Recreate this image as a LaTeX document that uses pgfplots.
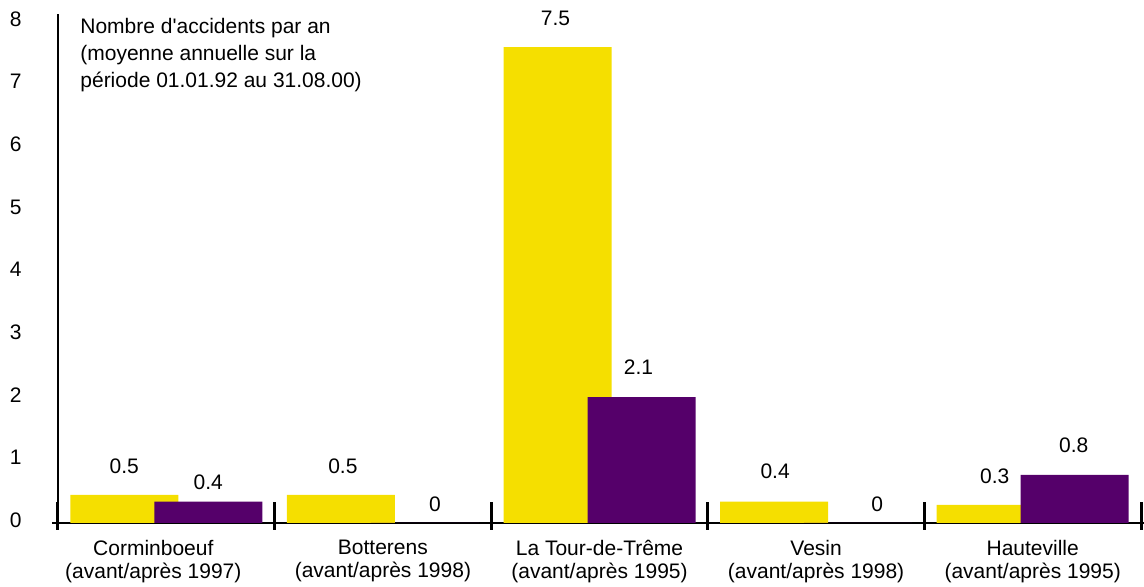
\documentclass[border=0pt]{standalone}
\usepackage{fontspec}
\setmainfont{Liberation Sans}
\usepackage{pgfplots}
\usepackage{pgfplotstable}
\pgfplotsset{compat=1.18}

\definecolor{avant}{RGB}{245,223,0}
\definecolor{apres}{RGB}{85,0,106}

% x: site, y: bar height, label: printed value, dy/dx: label offsets (pt)
\pgfplotstableread{
x y label dy dx
0 0.45 0.5 10.25 0
1 0.45 0.5 10.25 1
2 7.60 7.5 10.5 -1
3 0.34 0.4 11.25 0.5
4 0.29 0.3 10.25 2
}\tabavant

\pgfplotstableread{
x y label dy dx
0 0.34 0.4 5.75 0
1 0 0 5.25 5
2 2.01 2.1 11.25 -1.5
3 0 0 5.25 9.5
4 0.77 0.8 10.75 -0.5
}\tabapres

\begin{document}
\begin{tikzpicture}[font=\fontsize{10.5}{11.5}\selectfont]
\useasboundingbox (-29pt,-32pt) rectangle (543pt,261.5pt);
\begin{axis}[
    at={(0,0)}, anchor=south west,
    scale only axis,
    width=541.5pt, height=254.5pt,
    xmin=-0.5, xmax=4.5,
    ymin=0, ymax=8.128,
    clip=false,
    axis x line=bottom, axis y line=left,
    axis line style={-, line width=0.9pt, black},
    x axis line style={shorten <=-3pt, shorten >=-1.5pt},
    tick align=inside,
    major tick length=0pt,
    xtick={-0.06,1,2,3,4},
    xticklabels={{Corminboeuf\\(avant/après 1997)},
                 {Botterens\\(avant/après 1998)},
                 {La Tour-de-Trême\\(avant/après 1995)},
                 {Vesin\\(avant/après 1998)},
                 {Hauteville\\(avant/après 1995)}},
    xticklabel style={align=center, inner sep=0pt, yshift=-8.5pt,
                      font=\fontsize{10.5}{11.5}\selectfont},
    extra x ticks={-0.5,0.5,1.5,2.5,3.5,4.5},
    extra x tick labels={},
    extra x tick style={tick align=center, major tick length=14pt,
                        tick style={line width=1.5pt, black, yshift=3.5pt}},
    ytick={0,1,...,8},
    ytick style={draw=none},
    yticklabel style={anchor=east, inner sep=0pt, xshift=-18pt, yshift=1.5pt,
                      font=\fontsize{10.5}{11.5}\selectfont},
    /pgf/number format/assume math mode=true,
  ]

  \addplot[ybar, bar width=54pt, bar shift=-21pt, fill=avant, draw=none,
    nodes near coords={\pgfplotspointmeta}, point meta=explicit symbolic,
    visualization depends on={\thisrow{dy}\as\labeldy},
    visualization depends on={\thisrow{dx}\as\labeldx},
    every node near coord/.append style={anchor=south, inner sep=0pt,
      yshift=\labeldy pt, xshift={\labeldx pt-21pt}, black}]
    table[x=x, y=y, meta=label] {\tabavant};

  \addplot[ybar, bar width=54pt, bar shift=21pt, fill=apres, draw=none,
    nodes near coords={\pgfplotspointmeta}, point meta=explicit symbolic,
    visualization depends on={\thisrow{dy}\as\labeldy},
    visualization depends on={\thisrow{dx}\as\labeldx},
    every node near coord/.append style={anchor=south, inner sep=0pt,
      yshift=\labeldy pt, xshift={\labeldx pt+21pt}, black}]
    table[x=x, y=y, meta=label] {\tabapres};

  \node[anchor=north west, align=left, inner sep=0pt, xshift=11pt, yshift=-2pt,
        font=\fontsize{10.5}{13.5}\selectfont]
    at (rel axis cs:0,1)
    {Nombre d\textquotesingle accidents par an\\(moyenne annuelle sur la\\période 01.01.92 au 31.08.00)};
\end{axis}
\end{tikzpicture}
\end{document}
